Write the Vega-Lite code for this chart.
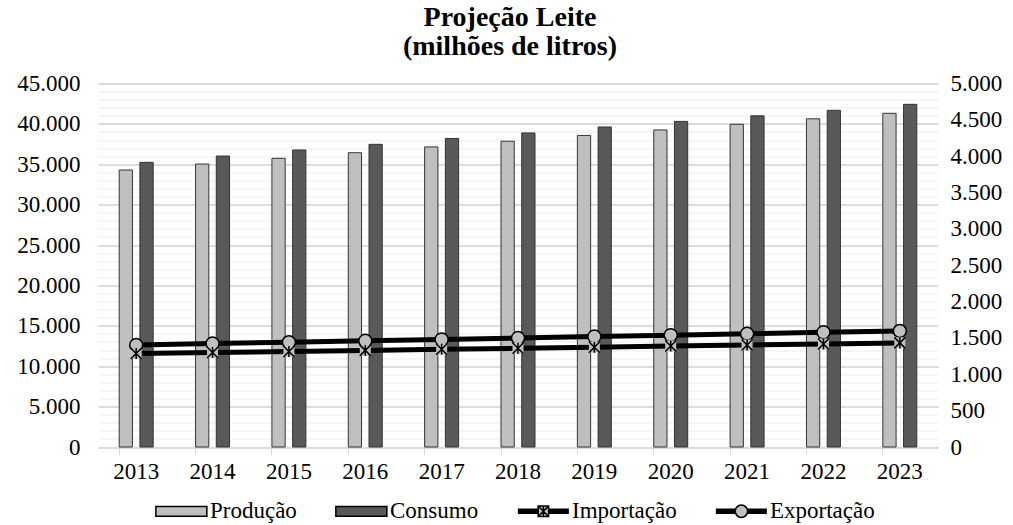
{
  "$schema": "https://vega.github.io/schema/vega-lite/v6.json",
  "width": 840,
  "height": 363.5,
  "autosize": {"type": "none"},
  "padding": {"left": 98, "top": 83.5, "right": 75, "bottom": 78},
  "background": "white",
  "title": {
    "text": ["Projeção Leite", "(milhões de litros)"],
    "font": "Liberation Serif",
    "fontSize": 28,
    "fontWeight": "bold",
    "lineHeight": 29,
    "color": "black",
    "anchor": "middle",
    "offset": 12,
    "dx": -8
  },
  "data": {
    "values": [
      {"ano": "2013", "serie": "Produção", "valor": 34290},
      {"ano": "2014", "serie": "Produção", "valor": 35030},
      {"ano": "2015", "serie": "Produção", "valor": 35740},
      {"ano": "2016", "serie": "Produção", "valor": 36430},
      {"ano": "2017", "serie": "Produção", "valor": 37150},
      {"ano": "2018", "serie": "Produção", "valor": 37860},
      {"ano": "2019", "serie": "Produção", "valor": 38570},
      {"ano": "2020", "serie": "Produção", "valor": 39250},
      {"ano": "2021", "serie": "Produção", "valor": 39950},
      {"ano": "2022", "serie": "Produção", "valor": 40630},
      {"ano": "2023", "serie": "Produção", "valor": 41310},
      {"ano": "2013", "serie": "Consumo", "valor": 35240},
      {"ano": "2014", "serie": "Consumo", "valor": 36020},
      {"ano": "2015", "serie": "Consumo", "valor": 36770},
      {"ano": "2016", "serie": "Consumo", "valor": 37470},
      {"ano": "2017", "serie": "Consumo", "valor": 38200},
      {"ano": "2018", "serie": "Consumo", "valor": 38880},
      {"ano": "2019", "serie": "Consumo", "valor": 39620},
      {"ano": "2020", "serie": "Consumo", "valor": 40310},
      {"ano": "2021", "serie": "Consumo", "valor": 41000},
      {"ano": "2022", "serie": "Consumo", "valor": 41680},
      {"ano": "2023", "serie": "Consumo", "valor": 42420},
      {"ano": "2013", "serie": "Importação", "valor": 1285},
      {"ano": "2014", "serie": "Importação", "valor": 1300},
      {"ano": "2015", "serie": "Importação", "valor": 1314},
      {"ano": "2016", "serie": "Importação", "valor": 1329},
      {"ano": "2017", "serie": "Importação", "valor": 1344},
      {"ano": "2018", "serie": "Importação", "valor": 1358},
      {"ano": "2019", "serie": "Importação", "valor": 1373},
      {"ano": "2020", "serie": "Importação", "valor": 1388},
      {"ano": "2021", "serie": "Importação", "valor": 1403},
      {"ano": "2022", "serie": "Importação", "valor": 1417},
      {"ano": "2023", "serie": "Importação", "valor": 1432},
      {"ano": "2013", "serie": "Exportação", "valor": 1403},
      {"ano": "2014", "serie": "Exportação", "valor": 1422},
      {"ano": "2015", "serie": "Exportação", "valor": 1441},
      {"ano": "2016", "serie": "Exportação", "valor": 1461},
      {"ano": "2017", "serie": "Exportação", "valor": 1480},
      {"ano": "2018", "serie": "Exportação", "valor": 1499},
      {"ano": "2019", "serie": "Exportação", "valor": 1519},
      {"ano": "2020", "serie": "Exportação", "valor": 1538},
      {"ano": "2021", "serie": "Exportação", "valor": 1557},
      {"ano": "2022", "serie": "Exportação", "valor": 1577},
      {"ano": "2023", "serie": "Exportação", "valor": 1596}
    ]
  },
  "encoding": {
    "x": {
      "field": "ano",
      "type": "nominal",
      "title": null,
      "scale": {"paddingInner": 0.555, "paddingOuter": 0.2775},
      "axis": {
        "labelAngle": 0,
        "domainColor": "#d9d9d9",
        "tickColor": "#d9d9d9",
        "ticks": true,
        "tickSize": 8,
        "bandPosition": 0,
        "labelPadding": 5,
        "grid": false
      }
    }
  },
  "layer": [
    {
      "transform": [{"filter": "datum.serie === 'Produção' || datum.serie === 'Consumo'"}],
      "mark": {"type": "bar", "stroke": "#333333", "strokeWidth": 1},
      "encoding": {
        "xOffset": {
          "field": "serie",
          "type": "nominal",
          "scale": {"domain": ["Produção", "Consumo"], "paddingInner": 0.36, "paddingOuter": 0}
        },
        "y": {
          "field": "valor",
          "type": "quantitative",
          "title": null,
          "scale": {"domain": [0, 45000], "nice": false},
          "axis": {
            "values": [0,1000,2000,3000,4000,5000,6000,7000,8000,9000,10000,11000,12000,13000,14000,15000,16000,17000,18000,19000,20000,21000,22000,23000,24000,25000,26000,27000,28000,29000,30000,31000,32000,33000,34000,35000,36000,37000,38000,39000,40000,41000,42000,43000,44000,45000],
            "labelExpr": "datum.value % 5000 === 0 ? replace(format(datum.value, ','), ',', '.') : ''",
            "grid": true,
            "gridColor": {"condition": {"test": "datum.value % 5000 === 0", "value": "#d0d0d0"}, "value": "#ededed"},
            "gridWidth": {"condition": {"test": "datum.value % 5000 === 0", "value": 1.5}, "value": 1},
            "ticks": false,
            "tickSize": 0,
            "domain": false,
            "labelPadding": 18
          }
        },
        "fill": {
          "field": "serie",
          "type": "nominal",
          "scale": {
            "domain": ["Produção", "Consumo", "Importação", "Exportação"],
            "range": ["#bfbfbf", "#595959", "#bfbfbf", "#bfbfbf"]
          },
          "legend": {"title": null, "orient": "none", "legendX": 86, "legendY": 416, "direction": "horizontal", "columns": 4}
        }
      }
    },
    {
      "transform": [{"filter": "false"}],
      "mark": {"type": "point", "filled": true, "opacity": 1},
      "encoding": {
        "y": {"field": "valor", "type": "quantitative", "axis": null, "title": null},
        "fill": {"field": "serie", "type": "nominal"},
        "shape": {
          "field": "serie",
          "type": "nominal",
          "scale": {
            "domain": ["Produção", "Consumo", "Importação", "Exportação"],
            "range": [
              "M-6.1,-0.75H1.75V0.75H-6.1Z",
              "M-6.1,-0.75H1.75V0.75H-6.1Z",
              "M-6.1,-0.3H-2.97M-6.1,-0.15H-2.97M-6.1,0H-2.97M-6.1,0.15H-2.97M-6.1,0.3H-2.97M-1.37,-0.3H1.75M-1.37,-0.15H1.75M-1.37,0H1.75M-1.37,0.15H1.75M-1.37,0.3H1.75M-2.97,-0.8H-1.37V0.8H-2.97ZM-2.97,-0.8L-1.37,0.8M-2.97,0.8L-1.37,-0.8M-2.17,-0.8V0.8",
              "M-6.1,-0.3H-3.12M-6.1,-0.15H-3.12M-6.1,0H-3.12M-6.1,0.15H-3.12M-6.1,0.3H-3.12M-1.22,-0.3H1.75M-1.22,-0.15H1.75M-1.22,0H1.75M-1.22,0.15H1.75M-1.22,0.3H1.75M-3.12,0A0.95,0.95,0,1,0,-1.22,0A0.95,0.95,0,1,0,-3.12,0Z"
            ]
          },
          "legend": {"title": null, "orient": "none", "legendX": 86, "legendY": 416, "direction": "horizontal", "columns": 4}
        }
      }
    },
    {
      "transform": [{"filter": "datum.serie === 'Importação' || datum.serie === 'Exportação'"}],
      "encoding": {
        "y": {
          "field": "valor",
          "type": "quantitative",
          "title": null,
          "scale": {"domain": [0, 5000], "nice": false},
          "axis": {
            "orient": "right",
            "values": [0,500,1000,1500,2000,2500,3000,3500,4000,4500,5000],
            "labelExpr": "replace(format(datum.value, ','), ',', '.')",
            "grid": false,
            "ticks": false,
            "tickSize": 0,
            "domain": false,
            "labelPadding": 12
          }
        }
      },
      "layer": [
        {
          "mark": {"type": "line", "color": "black", "strokeWidth": 5},
          "encoding": {"detail": {"field": "serie", "type": "nominal"}}
        },
        {
          "transform": [{"filter": "datum.serie === 'Exportação'"}],
          "mark": {"type": "point", "shape": "circle", "size": 169, "filled": true, "fill": "#bfbfbf", "stroke": "black", "strokeWidth": 1.5, "opacity": 1}
        },
        {
          "transform": [{"filter": "datum.serie === 'Importação'"}],
          "mark": {"type": "point", "shape": "square", "size": 121, "filled": true, "fill": "#bfbfbf", "strokeWidth": 0, "opacity": 1}
        },
        {
          "transform": [{"filter": "datum.serie === 'Importação'"}],
          "mark": {"type": "point", "shape": "M-1,-1L1,1M-1,1L1,-1M0,-1V1", "size": 121, "filled": false, "stroke": "black", "strokeWidth": 1.5, "opacity": 1}
        }
      ]
    }
  ],
  "resolve": {"scale": {"y": "independent"}},
  "config": {
    "view": {"stroke": null},
    "axis": {"labelFont": "Liberation Serif", "labelFontSize": 23, "labelColor": "black"},
    "legend": {
      "labelFont": "Liberation Serif",
      "labelFontSize": 23,
      "labelColor": "black",
      "labelOffset": 3,
      "symbolSize": 169,
      "symbolStrokeWidth": 1.5,
      "symbolFillColor": "#bfbfbf",
      "symbolStrokeColor": "black",
      "symbolOpacity": 1,
      "columnPadding": 35,
      "gridAlign": "each",
      "padding": 0
    }
  }
}
